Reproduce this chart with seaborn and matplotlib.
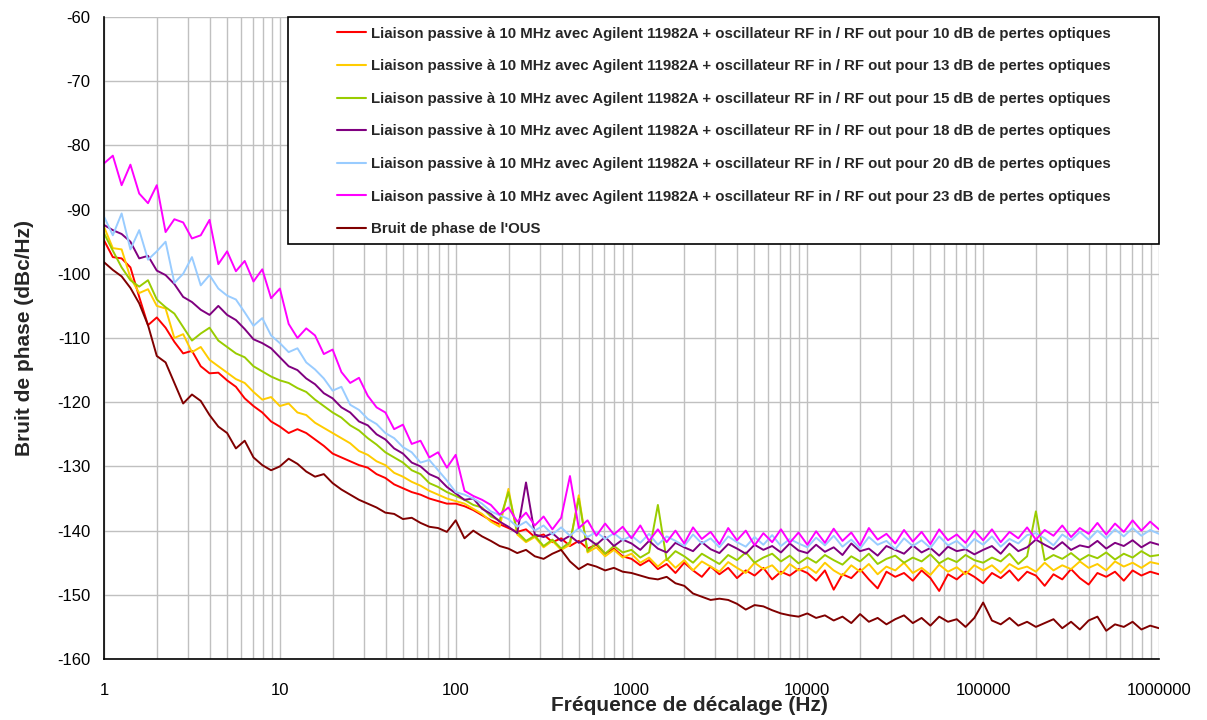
import numpy as np
import pandas as pd
import matplotlib
matplotlib.use('Agg')
import matplotlib.pyplot as plt
import matplotlib.ticker as mticker
from matplotlib.patches import Rectangle
import seaborn as sns

# offset frequency grid (20 points per decade, 1 Hz .. 1 MHz)
freq = np.logspace(0, 6, 121)
freq_ticks = [1, 10, 100, 1000, 10000, 100000, 1000000]

# phase noise values (dBc/Hz), one row per decade
loss_10db = [
    -94.8, -97.4, -97.6, -99.0, -103.6, -108.0, -106.8, -108.4, -110.6, -112.4,
    -112.0, -114.4, -115.5, -115.4, -116.6, -117.6, -119.4, -120.6, -121.6, -123.0,
    -123.8, -124.8, -124.2, -124.8, -125.8, -126.8, -128.0, -128.6, -129.2, -129.8,
    -130.2, -131.2, -131.8, -132.8, -133.4, -134.0, -134.4, -135.0, -135.4, -135.8,
    -135.8, -136.2, -136.8, -137.6, -138.4, -139.0, -139.6, -140.2, -139.8, -141.0,
    -140.6, -141.8, -141.2, -142.4, -141.6, -142.8, -142.2, -143.6, -142.8, -144.0,
    -144.4, -145.4, -144.6, -146.0, -145.2, -146.6, -145.0, -146.2, -147.2, -145.6,
    -146.8, -145.8, -147.4, -146.2, -147.0, -145.8, -147.6, -146.4, -147.0, -146.0,
    -146.6, -147.8, -146.2, -149.2, -146.8, -147.4, -146.0, -147.6, -149.0, -146.4,
    -147.2, -146.6, -147.8, -146.2, -147.4, -149.4, -146.8, -147.6, -146.4, -147.2,
    -148.2, -146.6, -147.4, -146.2, -147.8, -146.4, -147.0, -148.6, -146.8, -147.6,
    -146.0, -147.4, -148.4, -146.6, -147.2, -146.4, -147.8, -146.2, -147.0, -146.4,
    -146.8,
]
loss_13db = [
    -92.7, -96.0, -96.2, -100.6, -103.0, -102.4, -105.0, -105.4, -110.0, -109.4,
    -112.2, -111.4, -113.4, -114.4, -115.4, -116.4, -117.0, -118.4, -119.6, -119.2,
    -120.6, -120.2, -121.6, -122.0, -123.2, -124.0, -124.8, -125.6, -126.4, -127.6,
    -128.2, -129.2, -129.8, -131.0, -131.6, -132.4, -133.0, -133.8, -134.4, -135.0,
    -135.4, -135.8, -136.6, -137.4, -138.6, -139.4, -133.5, -140.6, -141.8, -141.0,
    -142.6, -141.6, -143.0, -142.2, -134.5, -143.4, -142.6, -144.0, -143.0, -144.2,
    -143.6, -145.0, -144.2, -145.6, -144.4, -145.8, -144.6, -146.2, -144.8, -145.6,
    -146.4, -144.9, -145.8, -146.6, -145.0, -146.0, -145.4, -146.8, -145.2, -146.2,
    -145.6, -146.6, -145.0, -146.2, -147.0, -145.4, -146.4, -145.2, -146.8, -145.6,
    -146.2, -145.0, -146.6, -145.8, -146.9, -145.3, -146.4, -145.7, -146.8, -145.4,
    -146.2, -145.4, -146.6, -145.2, -146.0, -145.6, -146.4, -145.0, -146.2, -145.4,
    -146.0, -144.8, -145.8, -145.2, -146.2, -144.8, -145.6, -145.0, -145.8, -144.9,
    -145.2,
]
loss_15db = [
    -93.7, -96.4, -99.0, -101.0, -102.0, -101.0, -104.0, -105.2, -106.2, -108.3,
    -110.4, -109.3, -108.4, -110.4, -111.4, -112.4, -113.0, -114.4, -115.2, -116.0,
    -116.6, -117.0, -117.8, -118.4, -119.6, -120.6, -121.6, -122.4, -123.6, -124.4,
    -125.6, -126.6, -127.8, -128.6, -129.4, -130.6, -131.2, -132.6, -133.2, -134.0,
    -134.6, -135.2, -136.0, -136.4, -137.8, -138.4, -134.0, -140.2, -141.6, -140.8,
    -142.4, -141.4, -142.8, -141.8, -135.0, -143.2, -142.0, -143.6, -142.4, -143.4,
    -143.0, -144.2, -143.4, -136.0, -144.6, -143.2, -144.0, -145.0, -143.6, -144.4,
    -145.2, -143.8, -144.6, -143.4, -145.0, -144.2, -143.6, -144.8, -143.9, -145.1,
    -144.2, -145.0, -143.8, -144.6, -145.3, -144.0, -144.8, -143.6, -145.2, -144.4,
    -143.9, -145.0, -144.2, -144.8, -143.7, -145.1, -144.3, -144.9, -143.8, -144.6,
    -145.0, -144.2, -144.8, -143.6, -145.2, -144.0, -137.0, -144.6, -143.8, -144.4,
    -143.5, -144.6, -143.8, -144.3, -143.4, -144.5, -143.6, -144.2, -143.2, -144.0,
    -143.8,
]
loss_18db = [
    -92.4, -93.2, -93.8, -95.0, -97.6, -97.2, -99.5, -100.2, -101.6, -103.6,
    -104.4, -105.6, -106.4, -105.0, -106.4, -107.2, -108.6, -110.2, -110.8, -111.6,
    -113.0, -114.4, -115.0, -116.3, -117.2, -118.6, -119.4, -120.8, -121.6, -123.0,
    -123.6, -125.0, -125.8, -127.2, -128.0, -129.4, -130.0, -131.2, -131.8, -133.2,
    -134.2, -135.2, -135.0, -136.6, -137.4, -138.6, -139.4, -140.4, -132.5, -140.6,
    -141.0, -140.4, -141.6, -140.8, -141.9, -141.2, -142.2, -141.0, -142.4, -141.4,
    -142.0, -143.0, -141.6, -142.8, -143.4, -141.9, -142.6, -143.2, -141.8, -142.9,
    -143.5, -142.1, -142.8, -143.6, -142.2, -143.0, -142.4, -143.4, -142.0, -143.1,
    -143.5, -142.2, -143.3, -142.6, -143.8, -142.0, -143.2, -142.8, -143.9, -142.4,
    -143.0, -143.6, -142.3, -143.4, -142.7, -143.9, -142.5, -143.2, -142.9, -143.7,
    -143.0, -142.4, -143.6, -142.0, -143.2, -142.6, -141.4, -142.2, -142.9, -141.8,
    -143.0, -142.3, -142.6, -141.6, -142.8, -141.9, -142.4, -141.5, -142.6, -141.8,
    -142.2,
]
loss_20db = [
    -91.1, -94.0, -90.6, -96.2, -93.2, -97.8, -96.5, -95.0, -101.4, -100.0,
    -97.4, -101.8, -100.2, -102.3, -103.4, -104.0, -106.0, -108.1, -106.9, -109.6,
    -110.8, -112.2, -111.6, -113.8, -114.9, -116.3, -118.2, -117.6, -120.4, -121.2,
    -122.6, -123.4, -124.8, -125.6, -127.0, -127.8, -129.4, -129.0, -130.6, -132.2,
    -134.0, -134.4, -135.0, -135.8, -137.0, -137.6, -138.2, -139.4, -138.6, -140.0,
    -139.2, -140.6, -139.5, -140.8, -139.6, -141.0, -140.2, -141.3, -140.4, -141.5,
    -140.8, -141.9, -140.5, -142.2, -140.9, -141.6, -142.4, -140.6, -142.0, -141.2,
    -142.6, -140.9, -141.8, -142.5, -141.0, -142.2, -140.7, -142.4, -141.3, -142.0,
    -142.6, -141.1, -142.3, -140.8, -142.5, -141.4, -142.8, -141.0, -142.2, -141.6,
    -142.9, -141.2, -142.4, -141.5, -142.7, -140.9, -142.3, -141.6, -142.8, -141.3,
    -142.2, -140.9, -142.5, -141.3, -142.0, -140.7, -140.4, -141.2, -142.3, -140.6,
    -141.5, -140.2, -141.4, -140.0, -141.2, -139.8, -140.9, -139.6, -140.8, -139.9,
    -140.5,
]
loss_23db = [
    -82.8, -81.6, -86.2, -83.0, -87.5, -89.0, -86.2, -93.5, -91.5, -92.0,
    -94.5, -94.0, -91.6, -98.5, -96.5, -99.6, -98.0, -101.2, -99.3, -103.8,
    -102.3, -107.8, -110.0, -108.5, -109.6, -112.5, -111.8, -115.3, -117.0, -116.2,
    -119.0, -120.8, -121.6, -124.2, -123.5, -126.5, -126.0, -128.6, -127.8, -130.2,
    -128.2, -133.8, -134.6, -135.2, -136.0, -137.5, -136.4, -138.6, -137.2, -139.2,
    -137.8, -139.8, -138.0, -131.5, -139.6, -138.4, -140.8, -138.9, -140.6, -139.4,
    -141.2, -139.2, -141.6, -139.8, -141.8, -140.0, -142.0, -139.5, -141.3, -140.2,
    -142.1, -139.6, -141.5, -140.0, -142.3, -140.4, -141.8, -139.8, -141.9, -140.3,
    -142.2, -140.1, -141.9, -139.7, -141.6, -140.3, -142.3, -139.6, -141.4, -140.5,
    -142.0, -139.9, -141.7, -140.2, -142.1, -139.8, -141.5, -140.6, -141.9, -140.0,
    -141.5, -139.8, -141.8, -140.2, -141.2, -139.5, -141.4, -139.9, -140.8, -139.2,
    -141.0, -139.6, -140.5, -138.8, -140.6, -138.9, -140.2, -138.4, -140.0, -138.6,
    -139.8,
]
ous_noise = [
    -98.2, -99.4, -100.4, -102.2, -104.6, -108.0, -112.8, -113.8, -117.0, -120.2,
    -118.8, -119.8, -122.0, -123.8, -124.8, -127.2, -126.0, -128.6, -129.8, -130.6,
    -130.0, -128.8, -129.6, -130.8, -131.6, -131.2, -132.6, -133.6, -134.4, -135.2,
    -135.8, -136.4, -137.2, -137.4, -138.2, -138.0, -138.8, -139.4, -139.6, -140.2,
    -138.4, -141.2, -140.0, -140.9, -141.6, -142.4, -142.8, -143.5, -143.0, -144.0,
    -144.4, -143.6, -143.0, -144.8, -146.0, -145.2, -145.6, -146.2, -145.8, -146.4,
    -146.6, -147.0, -147.4, -147.6, -147.2, -148.2, -148.6, -149.8, -150.3, -150.8,
    -150.6, -150.8, -151.4, -152.3, -151.6, -151.8, -152.4, -152.9, -153.2, -153.4,
    -152.9, -153.6, -153.2, -154.0, -153.4, -154.4, -153.0, -154.2, -153.6, -154.6,
    -153.8, -153.2, -154.4, -153.6, -154.8, -153.4, -154.2, -153.8, -155.0, -153.6,
    -151.2, -154.0, -154.6, -153.6, -154.8, -154.2, -155.0, -154.4, -153.8, -155.2,
    -154.2, -155.4, -154.0, -153.4, -155.6, -154.6, -155.0, -154.2, -155.4, -154.8,
    -155.2,
]

base = "Liaison passive à 10 MHz avec Agilent 11982A + oscillateur RF in / RF out pour {} dB de pertes optiques"
series = {
    base.format(10): loss_10db,
    base.format(13): loss_13db,
    base.format(15): loss_15db,
    base.format(18): loss_18db,
    base.format(20): loss_20db,
    base.format(23): loss_23db,
    "Bruit de phase de l'OUS": ous_noise,
}
colors = ['#FF0000', '#FFCC00', '#99CC00', '#800080', '#99CCFF', '#FF00FF', '#800000']
palette = dict(zip(series.keys(), colors))

df = pd.concat([pd.DataFrame({'freq': freq, 'noise': vals, 'serie': name})
                for name, vals in series.items()], ignore_index=True)

sns.set_style("white")
plt.rcParams['font.family'] = ['Liberation Sans', 'DejaVu Sans']
plt.rcParams['axes.unicode_minus'] = False

fig = plt.figure(figsize=(12.07, 7.2), dpi=100)
ax = fig.add_axes([0.0862, 0.0847, 0.8740, 0.8917])

sns.lineplot(data=df, x='freq', y='noise', hue='serie', palette=palette,
             hue_order=list(series.keys()), estimator=None, sort=False,
             linewidth=1.4, ax=ax, legend=True)

ax.set_xscale('log')
ax.set_xlim(1, 1e6)
ax.set_ylim(-160, -60)
ax.set_yticks(np.arange(-160, -59, 10))
ax.xaxis.set_major_locator(mticker.FixedLocator(freq_ticks))
ax.xaxis.set_minor_locator(mticker.LogLocator(base=10, subs=np.arange(2, 10), numticks=100))
ax.xaxis.set_major_formatter(mticker.FixedFormatter([str(t) for t in freq_ticks]))
ax.xaxis.set_minor_formatter(mticker.NullFormatter())

ax.grid(True, which='both', axis='x', color='#C0C0C0', linewidth=1)
ax.grid(True, which='major', axis='y', color='#C0C0C0', linewidth=1)
ax.set_axisbelow(True)

for side in ['top', 'right']:
    ax.spines[side].set_visible(False)
for side in ['left', 'bottom']:
    ax.spines[side].set_color('black')
    ax.spines[side].set_linewidth(1.2)

ax.tick_params(axis='both', which='major', direction='inout', length=8, width=1,
               labelsize=12, colors='black')
ax.tick_params(axis='x', which='major', pad=13)
ax.tick_params(axis='y', which='major', pad=6)
ax.tick_params(axis='x', which='minor', length=0)

ax.set_xlabel('Fréquence de décalage (Hz)', fontsize=15, fontweight='bold')
ax.set_ylabel('Bruit de phase (dBc/Hz)', fontsize=15, fontweight='bold')
ax.xaxis.set_label_coords(0.5545, -0.057)
ax.yaxis.set_label_coords(-0.066, 0.5)

# legend box (white panel with black border over the plot)
ax.add_patch(Rectangle((0.1744, 0.6464), 0.8256, 0.3536, transform=ax.transAxes,
                       facecolor='white', edgecolor='black', linewidth=1.2,
                       zorder=4, clip_on=False))
handles, labels = ax.get_legend_handles_labels()
ax.get_legend().remove()
leg = ax.legend(handles, labels, loc='upper left', bbox_to_anchor=(0.2209, 0.985),
                frameon=False, borderpad=0, borderaxespad=0, labelspacing=1.24,
                handlelength=1.95, handletextpad=0.28,
                prop={'size': 10.8, 'weight': 'bold'})
leg.set_zorder(5)
for h in leg.get_lines():
    h.set_linewidth(1.5)

fig.savefig('out.png', dpi=100)
